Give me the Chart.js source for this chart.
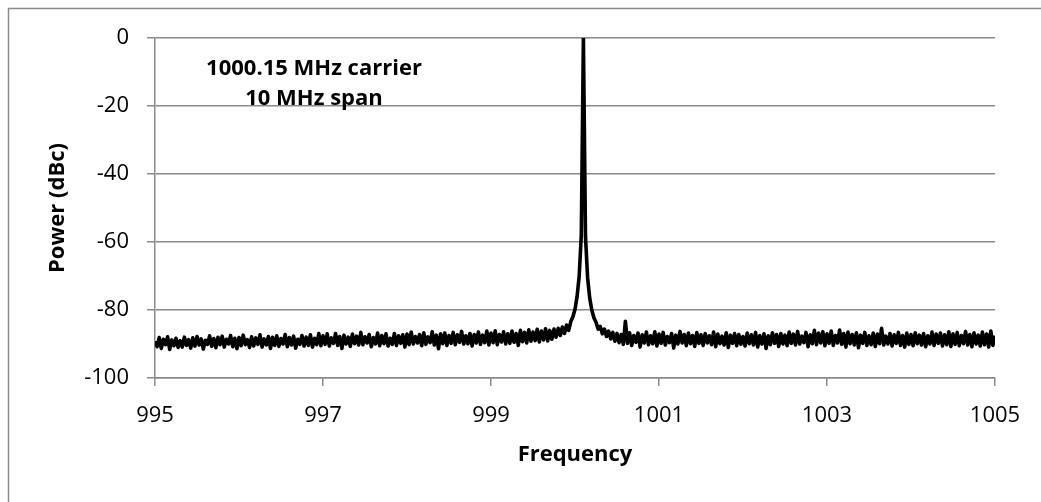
<!DOCTYPE html>
<html>
<head>
<meta charset="utf-8">
<title>Spectrum 1000.15 MHz carrier</title>
<script src="https://cdn.jsdelivr.net/npm/chart.js@4.4.1/dist/chart.umd.min.js"></script>
<style>
  body { margin: 0; background: #fff; }
  #wrap { width: 1041px; height: 502px; }
</style>
</head>
<body>
<div id="wrap"><canvas id="myChart" width="1041" height="502"></canvas></div>
<script>
// sweep: 995 .. 1005 MHz, one reading every 0.025 MHz (401 readings)
const startMHz = 995;
const stepMHz = 0.025;

const xTicks = [995, 997, 999, 1001, 1003, 1005];
const yTicks = [0, -20, -40, -60, -80, -100];

const noteLines = ['1000.15 MHz carrier', '10 MHz span'];

// power in dBc
const powerDbc = [
  -89.2, -90.8, -88.1, -91.3, -88.6, -90.2, -87.9, -91.6, -88.8, -90.5, -88.3, -91.0, -89.0, -90.9, -88.0, -90.4, -88.7, -91.2, -88.2, -90.6,
  -87.8, -90.3, -88.5, -91.5, -88.9, -90.1, -87.6, -90.7, -88.4, -91.1, -88.0, -90.2, -87.7, -90.9, -88.6, -90.0, -87.5, -90.8, -88.3, -91.4,
  -88.1, -90.5, -87.4, -90.2, -88.7, -91.0, -87.9, -90.6, -88.2, -90.1, -87.3, -90.9, -88.5, -90.3, -87.8, -91.3, -88.0, -90.4, -87.6, -90.7,
  -88.4, -90.0, -87.2, -90.8, -88.1, -90.3, -87.7, -91.2, -88.6, -90.1, -87.5, -90.6, -88.0, -90.4, -87.3, -90.9, -88.3, -90.2, -86.9, -90.5,
  -87.6, -90.1, -87.0, -90.6, -88.2, -89.8, -86.9, -90.4, -87.8, -91.3, -87.4, -90.0, -88.0, -90.7, -87.1, -89.9, -87.7, -90.3, -86.6, -90.2,
  -87.9, -89.7, -87.2, -90.8, -88.1, -90.0, -86.8, -90.5, -87.5, -89.9, -87.0, -90.6, -88.3, -90.1, -86.9, -90.4, -87.6, -89.8, -87.3, -90.9,
  -87.1, -90.2, -86.5, -90.0, -87.8, -89.7, -87.2, -90.5, -86.7, -90.1, -87.9, -89.6, -86.4, -90.3, -87.4, -91.4, -87.0, -89.9, -86.8, -90.4,
  -87.5, -89.8, -86.6, -90.2, -87.3, -89.5, -86.3, -90.0, -87.6, -89.9, -86.9, -90.6, -87.2, -89.7, -86.5, -90.1, -87.4, -89.6, -86.2, -90.3,
  -86.8, -89.6, -86.1, -90.2, -87.2, -89.4, -86.4, -90.0, -87.0, -89.8, -86.2, -89.5, -86.9, -90.4, -86.0, -89.3, -86.6, -89.7, -85.8, -89.2,
  -86.5, -89.0, -85.7, -89.4, -86.2, -88.8, -85.5, -89.1, -86.0, -88.6, -85.6, -88.0, -85.4, -87.5, -85.0, -86.9, -84.4, -86.0, -83.4, -82.0,
  -79.8, -76.0, -70.0, -58.0, 0, -58.5, -70.5, -76.5, -80.0, -82.3, -83.6, -85.6, -84.8, -87.0, -85.6, -87.8, -86.2, -88.5, -86.6, -89.2,
  -86.9, -89.6, -87.2, -90.1, -83.3, -89.8, -86.7, -90.4, -87.5, -89.5, -86.8, -90.9, -87.3, -89.7, -86.5, -90.2, -87.6, -89.9, -86.4, -90.6,
  -87.1, -89.8, -86.6, -90.3, -87.8, -89.6, -86.9, -91.2, -87.4, -90.0, -86.3, -89.7, -87.2, -90.5, -86.8, -89.9, -87.5, -90.7, -86.6, -89.8,
  -87.3, -90.4, -86.9, -89.7, -87.6, -90.2, -86.5, -90.8, -87.1, -89.9, -87.7, -90.3, -86.7, -91.0, -87.4, -89.8, -86.9, -90.5, -87.2, -90.1,
  -87.8, -90.6, -86.8, -89.9, -87.3, -90.3, -86.6, -90.9, -87.5, -90.0, -87.0, -91.3, -87.6, -90.2, -86.7, -89.8, -87.2, -90.7, -86.9, -90.0,
  -87.4, -90.5, -86.5, -89.8, -87.1, -90.3, -86.3, -90.0, -87.7, -89.6, -86.6, -90.8, -87.3, -89.9, -86.0, -90.2, -86.8, -89.7, -86.4, -90.5,
  -87.0, -89.8, -86.2, -90.4, -87.5, -89.7, -85.9, -90.1, -86.9, -90.9, -86.5, -89.9, -87.2, -90.3, -86.7, -91.1, -87.4, -89.8, -86.6, -90.4,
  -87.6, -90.2, -86.8, -90.7, -87.1, -89.9, -85.4, -90.3, -87.7, -90.0, -86.9, -90.6, -87.3, -89.8, -86.6, -90.4, -87.5, -90.9, -86.8, -90.1,
  -87.2, -90.5, -86.7, -89.9, -87.4, -90.3, -86.9, -90.8, -87.6, -90.0, -86.5, -90.4, -87.1, -89.8, -86.8, -90.6, -87.3, -90.2, -86.4, -90.7,
  -87.0, -90.1, -86.6, -90.5, -87.5, -89.9, -86.3, -90.3, -87.2, -90.8, -86.7, -90.0, -87.4, -90.6, -86.5, -90.2, -87.1, -90.9, -86.2, -90.4,
  -87.5
];

const tracePoints = powerDbc.map((p, i) => ({ x: startMHz + i * stepMHz, y: p }));

const fontFam = '"Open Sans", "DejaVu Sans", sans-serif';

// gray frame round the whole chart (right/bottom edges fall outside the picture)
const chartFrame = {
  id: 'chartFrame',
  beforeDraw(chart) {
    const c = chart.ctx;
    c.save();
    c.strokeStyle = '#8c8c8c';
    c.lineWidth = 1.5;
    c.strokeRect(8.5, 8.5, 1100, 600);
    c.restore();
  }
};

// the two-line note inside the plot
const noteText = {
  id: 'noteText',
  afterDraw(chart) {
    const c = chart.ctx;
    c.save();
    c.font = 'bold 22px ' + fontFam;
    c.fillStyle = '#000';
    c.textAlign = 'center';
    c.textBaseline = 'alphabetic';
    c.fillText(noteLines[0], 314, 75);
    c.fillText(noteLines[1], 314, 105);
    c.restore();
  }
};

const ctx = document.getElementById('myChart');
new Chart(ctx, {
  type: 'line',
  data: {
    datasets: [{
      label: 'Power',
      data: tracePoints,
      borderColor: '#000',
      borderWidth: 3.6,
      borderJoinStyle: 'round',
      pointRadius: 0,
      tension: 0,
      fill: false
    }]
  },
  options: {
    responsive: false,
    animation: false,
    events: [],
    layout: { padding: { left: 0, top: 38, right: 46, bottom: 0 } },
    plugins: {
      legend: { display: false },
      tooltip: { enabled: false }
    },
    scales: {
      x: {
        type: 'linear',
        min: 995,
        max: 1005,
        afterFit(scale) { scale.height = 124; },
        afterBuildTicks(scale) { scale.ticks = xTicks.map(v => ({ value: v })); },
        ticks: {
          color: '#000',
          font: { family: fontFam, size: 22 },
          padding: 17,
          maxRotation: 0,
          autoSkip: false,
          callback: v => String(v)
        },
        grid: {
          drawOnChartArea: false,
          drawTicks: true,
          tickLength: 8,
          color: '#8a8a8a',
          lineWidth: 1.5
        },
        border: { color: '#8a8a8a', width: 1.5 },
        title: {
          display: true,
          text: 'Frequency',
          color: '#000',
          font: { family: fontFam, size: 22, weight: 'bold' },
          padding: { top: 0, bottom: 34 }
        }
      },
      y: {
        min: -100,
        max: 0,
        afterFit(scale) { scale.width = 155; },
        afterBuildTicks(scale) { scale.ticks = yTicks.map(v => ({ value: v })); },
        ticks: {
          color: '#000',
          font: { family: fontFam, size: 22 },
          padding: 18
        },
        grid: {
          drawTicks: true,
          tickLength: 8,
          color: '#8a8a8a',
          lineWidth: 1.5
        },
        border: { color: '#8a8a8a', width: 1.5 },
        title: {
          display: true,
          text: 'Power (dBc)',
          color: '#000',
          font: { family: fontFam, size: 22, weight: 'bold' },
          padding: { top: 45, bottom: 0 }
        }
      }
    }
  },
  plugins: [chartFrame, noteText]
});
</script>
</body>
</html>
